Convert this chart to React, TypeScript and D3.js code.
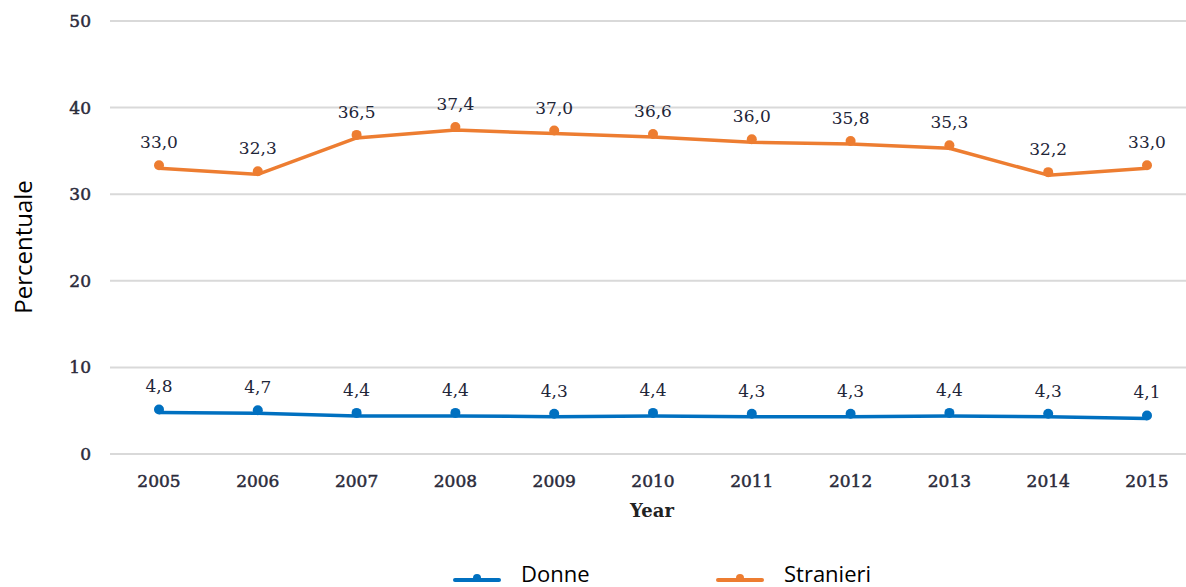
import React from 'react'
import * as d3 from 'd3'

const years = ['2005', '2006', '2007', '2008', '2009', '2010', '2011', '2012', '2013', '2014', '2015']
const donne = [4.8, 4.7, 4.4, 4.4, 4.3, 4.4, 4.3, 4.3, 4.4, 4.3, 4.1]
const stranieri = [33.0, 32.3, 36.5, 37.4, 37.0, 36.6, 36.0, 35.8, 35.3, 32.2, 33.0]
const yTicks = [0, 10, 20, 30, 40, 50]

const series = [
  { name: 'Donne', values: donne, color: '#0070c0' },
  { name: 'Stranieri', values: stranieri, color: '#ed7d31' },
]

const W = 1186
const H = 587

const App = () => {
  const x = d3.scalePoint<string>().domain(years).range([159, 1147])
  const y = d3.scaleLinear().domain([0, 50]).range([454, 21])
  const line = d3.line<number>()
    .x((_, i) => x(years[i]) as number)
    .y(d => y(d))

  const fmt = (v: number) => v.toFixed(1).replace('.', ',')
  const serif = '"DejaVu Serif", "Liberation Serif", serif'
  const sans = '"Open Sans", "Noto Sans", sans-serif'

  return (
    <svg width={W} height={H} style={{ position: 'absolute', left: 0, top: 0, background: '#fff' }}>
      {yTicks.map(t => (
        <g key={t}>
          <line x1={110} x2={W} y1={y(t)} y2={y(t)} stroke="#d9d9d9" strokeWidth={2} />
          <text x={91} y={y(t)} dy="0.35em" textAnchor="end" fontFamily={serif}
            fontSize={17} fill="#2b2b3b" stroke="#2b2b3b" strokeWidth={0.5}>{t}</text>
        </g>
      ))}

      {years.map(yr => (
        <text key={yr} x={x(yr)} y={481} dy="0.35em" textAnchor="middle" fontFamily={serif}
          fontSize={17} fill="#2b2b3b" stroke="#2b2b3b" strokeWidth={0.5}>{yr}</text>
      ))}
      <text x={652} y={511} dy="0.35em" textAnchor="middle" fontFamily={serif}
        fontSize={18} fontWeight="bold" fill="#222">Year</text>

      <text transform={`translate(24, ${247}) rotate(-90)`} textAnchor="middle" dy="0.35em"
        fontFamily={sans} fontSize={24} fill="#000">Percentuale</text>

      {series.map(s => (
        <g key={s.name}>
          <path d={line(s.values) || ''} fill="none" stroke={s.color} strokeWidth={3.5} strokeLinejoin="round" />
          {s.values.map((v, i) => (
            <g key={i}>
              <circle cx={x(years[i])} cy={y(v) - 3} r={5} fill={s.color} />
              <text x={x(years[i])} y={y(v) - 26} dy="0.35em" textAnchor="middle" fontFamily={serif}
                fontSize={17} fill="#1e2538">{fmt(v)}</text>
            </g>
          ))}
        </g>
      ))}

      {series.map((s, i) => {
        const lx = 455 + i * 263
        return (
          <g key={s.name}>
            <line x1={lx} x2={lx + 44} y1={580} y2={580} stroke={s.color} strokeWidth={4} strokeLinecap="round" />
            <circle cx={lx + 22} cy={578} r={4} fill={s.color} />
            <text x={lx + 66} y={574} dy="0.35em" fontFamily={sans} fontSize={22} fill="#000">{s.name}</text>
          </g>
        )
      })}
    </svg>
  )
}

export default App
